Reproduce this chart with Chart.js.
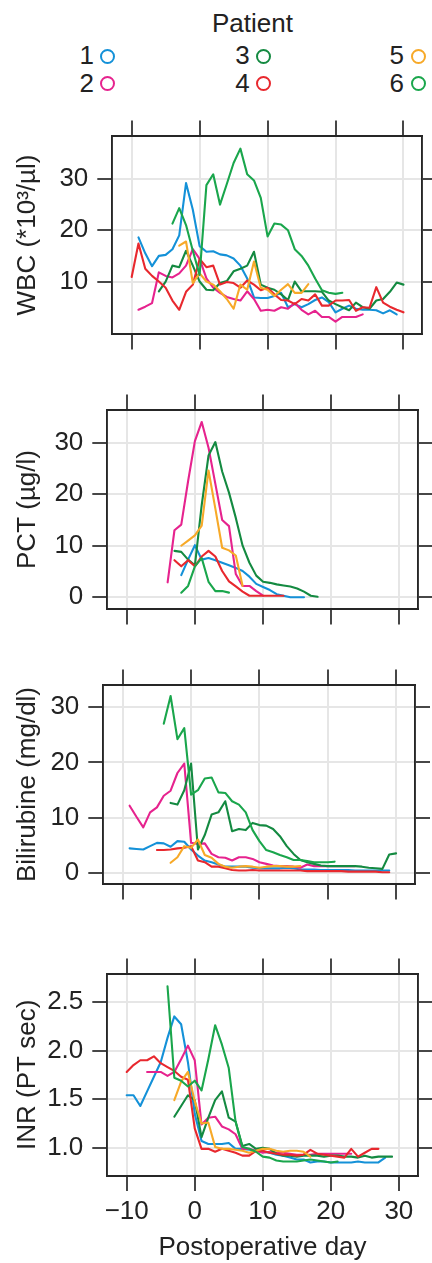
<!DOCTYPE html>
<html>
<head>
<meta charset="utf-8">
<script src="https://cdn.jsdelivr.net/npm/chart.js@4.4.1/dist/chart.umd.min.js"></script>
<style>
html,body{margin:0;padding:0;background:#fff;}
body{width:432px;height:1263px;position:relative;overflow:hidden;font-family:'Liberation Sans',Arial,Helvetica,sans-serif;color:#222;}
canvas{position:absolute;left:0;}
.lg{position:absolute;font-size:26px;line-height:26px;white-space:nowrap;color:#222;}
.dot{position:absolute;width:11px;height:11px;border:2px solid;border-radius:50%;box-sizing:content-box;}
</style>
</head>
<body>
<div id="legend"></div>
<script>
const N = null;
// Categories: postoperative day
const days = [-10,-9,-8,-7,-6,-5,-4,-3,-2,-1,0,1,2,3,4,5,6,7,8,9,10,11,12,13,14,15,16,17,18,19,20,21,22,23,24,25,26,27,28,29,30];
const patients = ['1','2','3','4','5','6'];
const patientColors = ['#1491d8','#e6238e','#148a41','#e8282e','#f7a928','#1aa64c'];

// Tick labels
const xTicks = [-10,0,10,20,30];
const xTickLabels = ['\u221210','0','10','20','30'];
const wbcTicks = [10,20,30];
const wbcTickLabels = ['10','20','30'];
const pctTicks = [0,10,20,30];
const pctTickLabels = ['0','10','20','30'];
const bilTicks = [0,10,20,30];
const bilTickLabels = ['0','10','20','30'];
const inrTicks = [1.0,1.5,2.0,2.5];
const inrTickLabels = ['1.0','1.5','2.0','2.5'];

// WBC (*10^3/µl), one value per day in `days`
const wbc1 = [N,18.6,15.5,13.0,15.0,15.2,16.3,19.0,29.2,24.0,16.9,15.8,15.9,15.3,15.1,14.5,13.1,10.6,6.9,6.8,6.8,7.2,7.8,5.0,5.6,5.0,5.6,6.4,6.9,6.0,4.0,4.7,5.3,4.7,4.5,4.5,4.4,3.8,4.4,3.6,N];
const wbc2 = [N,4.5,5.1,5.8,11.8,11.1,10.8,11.6,13.1,16.3,14.4,10.6,8.8,7.8,7.0,6.6,6.3,8.1,6.6,4.3,4.5,4.3,5.0,4.7,5.8,4.5,3.6,4.3,3.1,3.1,2.2,3.1,3.1,3.1,3.6,N,N,N,N,N,N];
const wbc3 = [N,N,N,N,8.1,10.0,13.1,12.8,16.0,13.1,10.0,8.4,8.3,9.7,10.1,12.0,12.5,13.1,15.8,9.4,8.8,8.4,7.5,6.4,10.0,8.1,8.1,8.1,8.0,6.3,5.6,5.0,4.4,5.9,5.0,4.7,6.3,6.6,8.0,9.8,9.4];
const wbc4 = [10.9,17.4,12.5,11.1,10.0,8.8,6.3,4.5,8.0,9.4,14.4,12.8,13.1,9.4,9.9,9.7,8.8,10.2,9.4,8.3,8.8,7.5,6.4,6.3,5.6,6.6,6.3,7.5,5.3,5.3,6.3,6.3,6.4,4.3,5.0,4.9,8.9,5.9,5.1,4.5,4.0];
const wbc5 = [N,N,N,N,N,N,N,17.0,17.8,9.7,11.6,10.0,9.4,8.1,6.6,4.7,9.4,8.4,13.9,8.8,8.4,7.2,8.4,9.5,7.8,7.8,9.5,N,N,N,N,N,N,N,N,N,N,N,N,N,N];
const wbc6 = [N,N,N,N,N,N,21.3,24.3,21.0,16.0,11.3,28.8,30.9,25.0,29.0,33.1,35.9,30.9,29.7,26.3,18.8,21.3,21.1,20.0,16.3,15.0,13.1,10.6,8.3,7.8,7.6,7.8,N,N,N,N,N,N,N,N,N];

// PCT (µg/l)
const pct1 = [N,N,N,N,N,N,N,N,4.3,7.3,10.1,7.3,7.6,7.2,6.7,6.2,5.7,5.1,4.0,2.6,2.0,1.4,0.6,0.3,0,0,0,N,N,N,N,N,N,N,N,N,N,N,N,N,N];
const pct2 = [N,N,N,N,N,N,2.9,13.0,14.1,22.5,30.3,34.0,29.0,22.0,15.0,13.8,4.5,2.2,2.2,1.2,0.3,N,N,N,N,N,N,N,N,N,N,N,N,N,N,N,N,N,N,N,N];
const pct3 = [N,N,N,N,N,N,N,9.0,8.8,7.3,6.2,17.9,27.5,30.1,24.4,20.3,15.4,10.0,6.7,4.2,3.0,2.8,2.5,2.3,2.1,1.7,1.1,0.3,0.1,N,N,N,N,N,N,N,N,N,N,N,N];
const pct4 = [N,N,N,N,N,N,N,7.2,6.0,7.2,6.0,7.9,9.0,7.9,5.1,3.1,2.1,1.1,0.3,0.3,0.3,0.3,0.3,0.3,N,N,N,N,N,N,N,N,N,N,N,N,N,N,N,N,N];
const pct5 = [N,N,N,N,N,N,N,N,10.0,11.0,12.0,13.9,24.6,17.2,9.6,9.1,8.1,2.2,N,N,N,N,N,N,N,N,N,N,N,N,N,N,N,N,N,N,N,N,N,N,N];
const pct6 = [N,N,N,N,N,N,N,N,0.9,2.2,6.0,7.6,3.0,1.2,1.2,0.9,N,N,N,N,N,N,N,N,N,N,N,N,N,N,N,N,N,N,N,N,N,N,N,N,N];

// Bilirubine (mg/dl)
const bil1 = [N,4.5,4.4,4.3,4.9,5.5,5.4,4.8,5.8,5.7,4.3,3.2,2.3,2.0,1.6,1.2,1.2,1.2,1.2,1.0,0.9,0.9,0.9,0.9,1.0,0.9,0.7,0.7,0.7,0.6,0.6,0.6,0.6,0.6,0.5,0.5,0.5,0.5,0.5,0.5,N];
const bil2 = [N,12.2,10.2,8.3,11.0,11.9,14.0,14.9,18.1,19.8,5.5,5.3,5.4,3.5,2.9,2.8,2.3,2.9,2.9,2.6,2.0,1.7,1.4,1.3,1.3,1.2,1.0,1.6,1.3,1.3,1.3,1.3,1.3,1.3,1.3,N,N,N,N,N,N];
const bil3 = [N,N,N,N,N,N,N,12.7,12.4,15.0,19.8,4.3,6.9,10.6,11.0,13.0,7.6,8.0,7.8,9.1,8.7,8.6,8.0,6.7,4.9,3.5,2.4,2.0,1.7,1.4,1.3,1.3,1.3,1.3,1.3,1.2,1.0,0.9,0.8,3.4,3.6];
const bil4 = [N,N,N,N,N,4.2,4.2,4.3,4.5,4.6,4.9,2.3,2.0,1.2,1.2,0.9,0.6,0.5,0.5,0.6,0.5,0.5,0.5,0.5,0.5,0.5,0.5,0.4,0.4,0.4,0.4,0.4,0.4,0.3,0.3,0.3,0.3,0.3,0.2,0.2,N];
const bil5 = [N,N,N,N,N,N,N,1.9,2.9,4.9,4.6,6.1,3.3,2.8,1.7,1.2,1.0,1.2,1.3,1.2,1.0,1.2,1.3,1.3,1.2,1.2,1.3,N,N,N,N,N,N,N,N,N,N,N,N,N,N];
const bil6 = [N,N,N,N,N,N,27.0,32.0,24.2,26.2,14.2,15.0,17.1,17.3,14.6,14.5,13.0,12.4,11.0,7.8,5.8,4.2,3.8,3.3,2.9,2.4,2.4,2.2,2.0,2.0,2.0,2.1,N,N,N,N,N,N,N,N,N];

// INR (PT sec)
const inr1 = [1.54,1.54,1.43,1.58,1.73,1.88,2.13,2.35,2.27,1.88,1.35,1.07,1.04,1.04,1.04,1.05,0.99,0.99,0.98,0.97,0.96,0.95,0.93,0.92,0.90,0.88,0.88,0.85,0.86,0.86,0.85,0.85,0.85,0.85,0.86,0.85,0.85,0.85,0.90,N,N];
const inr2 = [N,N,N,1.78,1.78,1.78,1.74,1.78,1.91,2.05,1.90,1.24,1.31,1.32,1.22,1.19,1.14,0.99,0.99,0.97,0.95,0.96,0.95,0.95,0.94,0.93,0.93,0.93,0.94,0.94,0.94,0.94,0.94,0.94,N,N,N,N,N,N,N];
const inr3 = [N,N,N,N,N,N,N,1.32,1.43,1.54,1.49,1.11,1.31,1.49,1.58,1.31,1.27,1.02,1.04,0.99,1.00,0.99,0.94,0.92,0.92,0.91,0.92,0.92,0.92,0.91,0.92,0.92,0.91,0.91,0.90,0.92,0.90,0.91,0.91,0.91,N];
const inr4 = [1.78,1.85,1.90,1.90,1.94,1.87,1.83,1.79,1.73,1.70,1.20,0.99,0.99,0.96,0.99,0.97,0.95,0.92,0.92,0.97,0.97,0.95,0.94,0.93,0.93,0.92,0.93,0.98,0.94,0.93,0.92,0.91,0.90,0.99,0.91,0.95,0.99,0.99,N,N,N];
const inr5 = [N,N,N,N,N,N,N,1.49,1.68,1.78,1.48,1.25,1.26,1.01,0.99,0.99,0.98,0.97,0.95,0.97,0.99,0.99,0.97,0.96,0.97,0.97,0.96,0.91,N,N,N,N,N,N,N,N,N,N,N,N,N];
const inr6 = [N,N,N,N,N,N,2.66,1.72,1.69,1.63,1.69,1.59,1.91,2.26,2.06,1.82,1.27,1.01,0.99,0.96,0.91,0.90,0.87,0.86,0.86,0.86,0.87,0.88,0.87,0.86,0.85,0.86,N,N,N,N,N,N,N,N,N];

const xTitle = 'Postoperative day';
const legendTitle = 'Patient';

const FONT = "'Liberation Sans', Arial, Helvetica, sans-serif";
const TEXT = '#222';
const FRAME = '#262626';
const X_MIN = -12.85, X_MAX = 32.77;

// ---- legend (HTML text) ----
(function buildLegend(){
  const lg = document.getElementById('legend');
  const t = document.createElement('div');
  t.className = 'lg'; t.textContent = legendTitle;
  t.style.left = '212px'; t.style.top = '10px';
  lg.appendChild(t);
  const textLeft = [79.5, 235.3, 389.6];
  const dotCx = [107.5, 263.7, 418.2];
  const rowBase = [64, 91.7];
  const dotCy = [56, 83.7];
  patients.forEach((p, i) => {
    const col = Math.floor(i / 2), row = i % 2;
    const s = document.createElement('div');
    s.className = 'lg'; s.textContent = p;
    s.style.left = textLeft[col] + 'px';
    s.style.top = (rowBase[row] - 22) + 'px';
    lg.appendChild(s);
    const d = document.createElement('div');
    d.className = 'dot';
    d.style.borderColor = patientColors[i];
    d.style.left = (dotCx[col] - 7.5) + 'px';
    d.style.top = (dotCy[row] - 7.5) + 'px';
    lg.appendChild(d);
  });
})();

function makePanel(g, yMin, yMax, yTicks, yTickLabels, yTitle, series, showX) {
  const canvas = document.createElement('canvas');
  const cTop = Math.floor(g.top) - 20;
  const cBottom = showX ? 1263 : Math.ceil(g.bottom) + 20;
  const h = cBottom - cTop;
  canvas.width = 432; canvas.height = h;
  canvas.style.top = cTop + 'px';
  canvas.style.width = '432px'; canvas.style.height = h + 'px';
  document.body.appendChild(canvas);
  const topH = g.top - cTop, botH = cBottom - g.bottom, leftW = g.left, rightW = 432 - g.right;
  const font = {family: FONT, size: 26, lineHeight: 1.2};
  const gridMain = {color: '#e6e6e6', lineWidth: 2, tickColor: FRAME, tickWidth: 1.7, tickLength: 15, drawTicks: true, drawOnChartArea: true};
  const gridSide = Object.assign({}, gridMain, {drawOnChartArea: false});
  const border = {display: true, color: FRAME, width: 1.9};
  const setX = s => { s.ticks = xTicks.map(v => ({value: v})); };
  const setY = s => { s.ticks = yTicks.map(v => ({value: v})); };

  const datasets = series.map((arr, i) => ({
    label: 'Patient ' + patients[i],
    data: days.map((d, j) => ({x: d, y: arr[j]})),
    borderColor: patientColors[i],
    backgroundColor: patientColors[i],
    borderWidth: 2.1,
    pointRadius: 0,
    tension: 0,
    fill: false,
    spanGaps: false,
    borderJoinStyle: 'round',
    borderCapStyle: 'round',
    order: 6 - i
  }));

  return new Chart(canvas, {
    type: 'line',
    data: {datasets},
    options: {
      responsive: false,
      animation: false,
      devicePixelRatio: 1,
      layout: {padding: 0, autoPadding: false},
      plugins: {legend: {display: false}, tooltip: {enabled: false}},
      scales: {
        x: {
          type: 'linear', position: 'bottom', min: X_MIN, max: X_MAX,
          afterBuildTicks: setX,
          afterFit: s => { s.height = botH; },
          grid: gridMain, border,
          ticks: {display: showX, autoSkip: false, maxRotation: 0, padding: 5, color: TEXT, font,
                  callback: (v, i) => xTickLabels[i]},
          title: {display: showX, text: xTitle, color: TEXT, font, padding: {top: 0, bottom: 0}}
        },
        x2: {
          type: 'linear', position: 'top', min: X_MIN, max: X_MAX,
          afterBuildTicks: setX,
          afterFit: s => { s.height = topH; },
          grid: gridSide, border,
          ticks: {display: false}
        },
        y: {
          type: 'linear', position: 'left', min: yMin, max: yMax,
          afterBuildTicks: setY,
          afterFit: s => { s.width = leftW; },
          grid: gridMain, border,
          ticks: {padding: 9, color: TEXT, font, callback: (v, i) => yTickLabels[i]},
          title: {display: true, text: yTitle, color: TEXT, font, padding: {top: 12, bottom: 0}}
        },
        y2: {
          type: 'linear', position: 'right', min: yMin, max: yMax,
          afterBuildTicks: setY,
          afterFit: s => { s.width = rightW; },
          grid: gridSide, border,
          ticks: {display: false}
        }
      }
    }
  });
}

makePanel({left: 112.3, right: 422.3, top: 131.7, bottom: 338.3}, -0.3, 38.44, wbcTicks, wbcTickLabels,
  'WBC (*10\u00B3/\u00B5l)', [wbc1, wbc2, wbc3, wbc4, wbc5, wbc6], false);
makePanel({left: 107.3, right: 418.3, top: 405.7, bottom: 613.3}, -2.35, 36.4, pctTicks, pctTickLabels,
  'PCT (\u00B5g/l)', [pct1, pct2, pct3, pct4, pct5, pct6], false);
makePanel({left: 103.3, right: 415, top: 680.7, bottom: 888.3}, -2.0, 34.05, bilTicks, bilTickLabels,
  'Bilirubine (mg/dl)', [bil1, bil2, bil3, bil4, bil5, bil6], false);
makePanel({left: 107.3, right: 417.7, top: 969.3, bottom: 1176}, 0.711, 2.79, inrTicks, inrTickLabels,
  'INR (PT sec)', [inr1, inr2, inr3, inr4, inr5, inr6], true);
</script>
</body>
</html>
